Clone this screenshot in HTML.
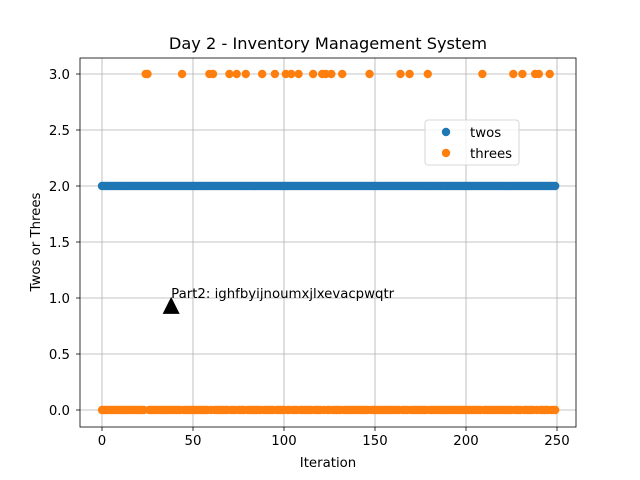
<!DOCTYPE html>
<html><head><meta charset="utf-8"><style>body{margin:0;background:#fff}svg{display:block;font-family:"DejaVu Sans","Liberation Sans",sans-serif}</style></head>
<body>
<svg id="chart" width="640" height="480"></svg>
<script>
const N = 250;
const twosValue = 2;
const threesHigh = [24,25,44,59,61,70,74,79,88,95,101,104,108,116,121,123,126,132,147,164,169,179,209,226,231,238,240,246];
const xTicks = [0,50,100,150,200,250];
const yTicks = [0,0.5,1.0,1.5,2.0,2.5,3.0];
const annotation = {x:38, y:0.93, text:"Part2: ighfbyijnoumxjlxevacpwqtr"};
const L=80,R=576,T=58,B=427;
const xs=v=>102+v*(557-102)/250;
const ys=v=>410-v*(410-74)/3;
const svg=document.getElementById('chart');
const NS='http://www.w3.org/2000/svg';
function mk(tag,attrs,txt){const e=document.createElementNS(NS,tag);for(const k in attrs)e.setAttribute(k,attrs[k]);if(txt!==undefined)e.textContent=txt;svg.appendChild(e);return e;}
let e=mk('text',{x:328,y:49,'text-anchor':'middle','font-size':16.2},'Day 2 - Inventory Management System');


xTicks.forEach(t=>{const x=xs(t);
 let g=mk('line',{x1:x,x2:x,y1:T,y2:B,stroke:'#b0b0b0','stroke-width':0.8});
 
 
 mk('line',{x1:x,x2:x,y1:B,y2:B+4,stroke:'#000','stroke-width':0.8});
 let l=mk('text',{x:x,y:B+18,'text-anchor':'middle','font-size':13.3},String(t));
 
 });
yTicks.forEach(t=>{const y=ys(t);
 let g=mk('line',{x1:L,x2:R,y1:y,y2:y,stroke:'#b0b0b0','stroke-width':0.8});
 
 
 mk('line',{x1:L-4,x2:L,y1:y,y2:y,stroke:'#000','stroke-width':0.8});
 let l=mk('text',{x:L-10,y:y+5,'text-anchor':'end','font-size':13.3},t.toFixed(1));
 
 });
const hs=new Set(threesHigh);
for(let i=0;i<N;i++){
 let c=mk('circle',{cx:xs(i),cy:ys(twosValue),r:4.2,fill:'#1f77b4'});
 
 
}
for(let i=0;i<N;i++){
 let c=mk('circle',{cx:xs(i),cy:ys(hs.has(i)?3:0),r:4.2,fill:'#ff7f0e'});
 
 
}
const ax=xs(annotation.x),ay=ys(annotation.y);
let tri=mk('polygon',{points:`${ax},${ay-9} ${ax-8.5},${ay+8} ${ax+8.5},${ay+8}`,fill:'#000'});


let at=mk('text',{x:ax,y:ys(1.0),'font-size':13.3},annotation.text);


let fr=mk('rect',{x:L,y:T,width:R-L,height:B-T,fill:'none',stroke:'#000','stroke-width':0.8});


let xl=mk('text',{x:328,y:467,'text-anchor':'middle','font-size':13.3},'Iteration');


let yl=mk('text',{x:40,y:242,'text-anchor':'middle','font-size':13.3,transform:'rotate(-90 40 242)'},'Twos or Threes');


let lg=mk('rect',{x:425,y:120,width:94,height:45,rx:3,fill:'#fff','fill-opacity':0.8,stroke:'#ccc','stroke-width':0.8});


[['twos','#1f77b4',132],['threes','#ff7f0e',153]].forEach(([n,c,y])=>{
 let d=mk('circle',{cx:446,cy:y,r:4.2,fill:c});
 
 
 let t=mk('text',{x:470,y:y+5,'font-size':13.3},n);
 
 
});
</script>
</body></html>
